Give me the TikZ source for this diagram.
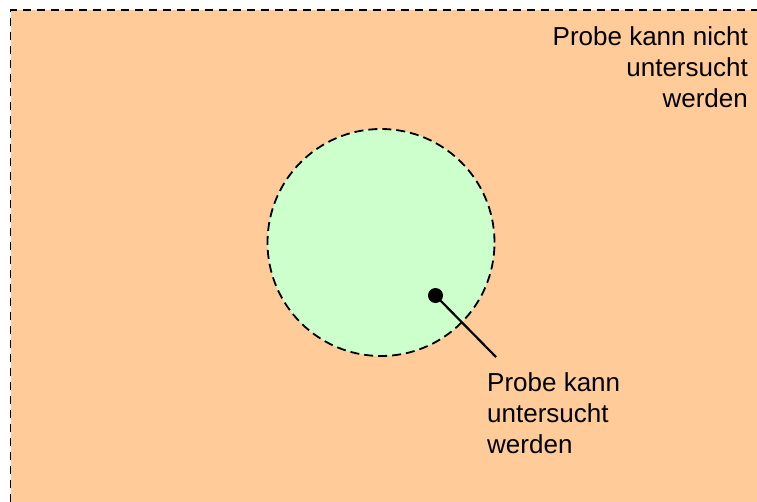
\documentclass[tikz,border=0pt]{standalone}
\usepackage{fontspec}
\setmainfont{Liberation Sans}
\definecolor{areaorange}{RGB}{255,204,153}
\definecolor{zonegreen}{RGB}{204,255,204}
\tikzset{
  lbl/.style={font=\fontsize{26}{31}\selectfont, inner sep=0pt},
  border/.style={draw=black, line width=1.8pt, dash pattern=on 8pt off 6pt},
  zone/.style={circle, draw=black, line width=1.8pt, dash pattern=on 9pt off 5pt, fill=zonegreen, minimum size=227pt, inner sep=0pt},
  probe/.style={circle, fill=black, minimum size=15pt, inner sep=0pt},
  pointer/.style={line width=2.2pt}
}
\begin{document}
\begin{tikzpicture}[x=1pt,y=-1pt]
\useasboundingbox (0,0) rectangle (757,501);
\clip (0,0) rectangle (757,501);
\fill[areaorange] (10.5,10) rectangle (780,530);
\draw[border] (10.5,530) -- (10.5,10) -- (780,10);
\node[zone] (zone) at (381,242.5) {};
\node[probe] (dot) at (435.5,295.5) {};
\coordinate (tip) at (496,357);
\draw[pointer] (dot.center) -- (tip);
\node[lbl, anchor=north east, align=right] (outside) at (748,26.5) {Probe kann nicht\\untersucht\\werden};
\node[lbl, anchor=north west, align=left] (inside) at (487,372) {Probe kann\\untersucht\\werden};
\end{tikzpicture}
\end{document}
